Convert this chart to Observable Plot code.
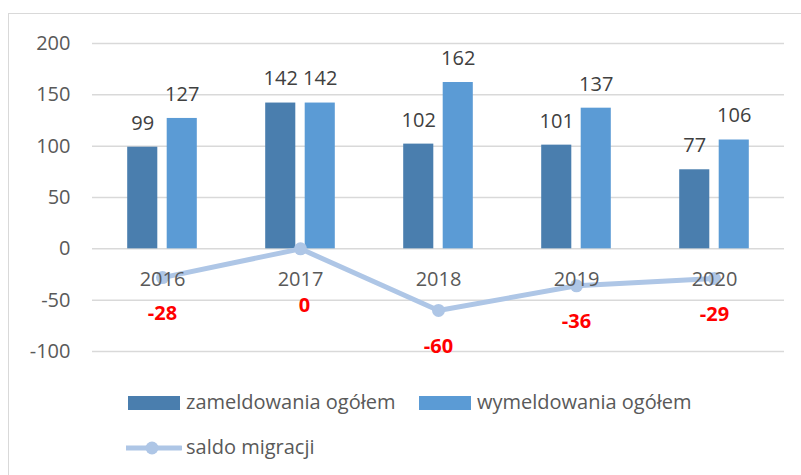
<!DOCTYPE html>
<html>
<head>
<meta charset="utf-8">
<script src="https://cdn.jsdelivr.net/npm/d3@7"></script>
<script src="https://cdn.jsdelivr.net/npm/@observablehq/plot@0.6"></script>
<style>
  html, body { margin: 0; padding: 0; background: #fff; }
  #frame { position: absolute; left: 8px; top: 13px; width: 800px; height: 470px; border: 1px solid #d9d9d9; box-sizing: border-box; font-family: "Open Sans", sans-serif; color: #595959; }
  #chart { position: absolute; left: 0; top: 0; }
  .lg { position: absolute; font-size: 20px; line-height: 20px; white-space: nowrap; }
  .sw { position: absolute; }
</style>
</head>
<body>
<div id="frame"><div id="chart"></div><div id="legend"></div></div>
<script>
const years = ["2016", "2017", "2018", "2019", "2020"];
const zameldowania = [99, 142, 102, 101, 77];
const wymeldowania = [127, 142, 162, 137, 106];
const saldo = [-28, 0, -60, -36, -29];
const seriesNames = ["zameldowania ogółem", "wymeldowania ogółem", "saldo migracji"];
const yTicks = [-100, -50, 0, 50, 100, 150, 200];

const colDark = "#4a7eae", colLight = "#5b9bd5", colLine = "#aec6e6";

const zam = years.map((y, i) => ({year: y, value: zameldowania[i]}));
const wym = years.map((y, i) => ({year: y, value: wymeldowania[i]}));
const sal = years.map((y, i) => ({year: y, value: saldo[i]}));

const off = 19.75, ins = 53.95;
const font = {fontFamily: "Open Sans", fontSize: 20};

const chart = Plot.plot({
  width: 790, height: 370,
  marginLeft: 83, marginRight: 15, marginTop: 29, marginBottom: 33,
  style: {fontFamily: "Open Sans", fontSize: "20px", color: "#595959", background: "transparent"},
  x: {domain: years, padding: 0, axis: null},
  y: {domain: [-100, 200], ticks: yTicks, label: null},
  marks: [
    Plot.gridY(yTicks, {stroke: "#d9d9d9", strokeOpacity: 1, strokeWidth: 1.5}),
    Plot.axisY(yTicks, {tickSize: 0, tickPadding: 22, fill: "#595959", fontSize: 20, label: null, tickFormat: d => String(d)}),
    Plot.barY(zam, {x: "year", y: "value", fill: colDark, dx: -off, insetLeft: ins, insetRight: ins}),
    Plot.barY(wym, {x: "year", y: "value", fill: colLight, dx: off, insetLeft: ins, insetRight: ins}),
    Plot.text(zam, {x: "year", y: "value", text: "value", dx: -off, dy: -24, fill: "#404040", ...font}),
    Plot.text(wym, {x: "year", y: "value", text: "value", dx: off, dy: -24, fill: "#404040", ...font}),
    Plot.line(sal, {x: "year", y: "value", stroke: colLine, strokeWidth: 5}),
    Plot.dot(sal, {x: "year", y: "value", r: 6.5, fill: colLine, stroke: null}),
    Plot.text(years, {x: d => d, y: 0, dy: 31, fill: "#595959", ...font}),
    Plot.text(sal, {filter: d => d.value !== 0, x: "year", y: "value", text: d => String(d.value), dy: 36, fill: "#ff0000", fontWeight: "bold", ...font}),
    Plot.text(sal, {filter: d => d.value === 0, x: "year", y: "value", text: d => String(d.value), dx: 4, dy: 57, fill: "#ff0000", fontWeight: "bold", ...font})
  ]
});
document.getElementById("chart").appendChild(chart);

const legend = document.getElementById("legend");
function add(html) { legend.insertAdjacentHTML("beforeend", html); }
add(`<div class="sw" style="left:119px;top:382px;width:52px;height:14px;background:${colDark}"></div>`);
add(`<div class="lg" style="left:177px;top:378px">${seriesNames[0]}</div>`);
add(`<div class="sw" style="left:410px;top:382px;width:52px;height:14px;background:${colLight}"></div>`);
add(`<div class="lg" style="left:468px;top:378px">${seriesNames[1]}</div>`);
add(`<svg class="sw" style="left:117px;top:424px" width="56" height="20"><line x1="0" y1="10" x2="55" y2="10" stroke="${colLine}" stroke-width="5" stroke-linecap="round"/><circle cx="26" cy="10" r="6.5" fill="${colLine}"/></svg>`);
add(`<div class="lg" style="left:177px;top:423px">${seriesNames[2]}</div>`);
</script>
</body>
</html>
